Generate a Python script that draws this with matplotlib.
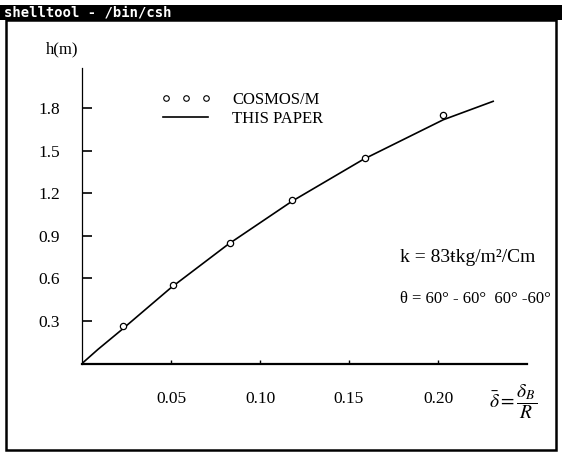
import matplotlib
matplotlib.use("Agg")
import matplotlib.pyplot as plt
from matplotlib.patches import Rectangle
from matplotlib.lines import Line2D
from matplotlib.legend_handler import HandlerLine2D

# ---- data ----
cosmos_x = [0.023, 0.051, 0.083, 0.118, 0.159, 0.203]
cosmos_h = [0.265, 0.553, 0.853, 1.155, 1.452, 1.754]
paper_x = [0.0, 0.009, 0.022, 0.050, 0.082, 0.118, 0.158, 0.203, 0.231]
paper_h = [0.0, 0.10, 0.235, 0.535, 0.84, 1.145, 1.44, 1.72, 1.85]
xticks = [0.05, 0.10, 0.15, 0.20]
xticklabels = ["0.05", "0.10", "0.15", "0.20"]
yticks = [0.3, 0.6, 0.9, 1.2, 1.5, 1.8]
yticklabels = ["0.3", "0.6", "0.9", "1.2", "1.5", "1.8"]

W, H = 562, 453
plt.rcParams['font.family'] = ['Liberation Serif', 'DejaVu Serif']
plt.rcParams['mathtext.fontset'] = 'stix'

fig = plt.figure(figsize=(W / 100, H / 100), dpi=100)
fig.patch.set_facecolor('white')

def fx(px):
    return px / W

def fy(py):
    return 1 - py / H

# title bar and window frame
fig.patches.append(Rectangle((0, fy(20)), 1, fy(5) - fy(20), transform=fig.transFigure,
                             facecolor='black', edgecolor='none', zorder=5))
fig.text(fx(4), fy(12.5), "shelltool - /bin/csh", color='white', fontsize=10,
         fontweight='bold', family=['DejaVu Sans Mono'], va='center', ha='left', zorder=6)
fig.patches.append(Rectangle((fx(6), fy(450)), fx(556) - fx(6), fy(20) - fy(450),
                             transform=fig.transFigure, facecolor='none',
                             edgecolor='black', linewidth=1.8, zorder=5))

# axes
x0, x1 = 82, 527
y0, y1 = 363.5, 68
ax = fig.add_axes([fx(x0), fy(y0), fx(x1) - fx(x0), fy(y1) - fy(y0)])
ax.set_xlim(0, 0.25)
ax.set_ylim(0, 2.085)
ax.patch.set_alpha(0)
for s in ['top', 'right']:
    ax.spines[s].set_visible(False)
ax.spines['left'].set_linewidth(0.9)
ax.spines['bottom'].set_linewidth(1.6)

ax.set_xticks(xticks)
ax.set_xticklabels(xticklabels)
ax.set_yticks(yticks)
ax.set_yticklabels(yticklabels)
ax.tick_params(axis='y', direction='in', length=7, width=1.2, pad=16, labelsize=12.5)
ax.tick_params(axis='x', direction='in', length=3, width=1.0, pad=20, labelsize=12.5)

ax.plot(paper_x, paper_h, color='black', linewidth=1.2, label='THIS PAPER', zorder=3)
ax.plot(cosmos_x, cosmos_h, linestyle='none', marker='o', markersize=4.5,
        markerfacecolor='white', markeredgecolor='black', markeredgewidth=0.9,
        label='COSMOS/M', zorder=4)

h_line = Line2D([], [], color='black', linewidth=1.2)
h_mark = Line2D([], [], linestyle='none', marker='o', markersize=4,
                markerfacecolor='white', markeredgecolor='black', markeredgewidth=0.8)
leg = ax.legend([h_mark, h_line], ['COSMOS/M', 'THIS PAPER'], numpoints=3,
                handler_map={h_line: HandlerLine2D(numpoints=1),
                             h_mark: HandlerLine2D(numpoints=3, marker_pad=0.15)},
                frameon=False, fontsize=12, handlelength=2.7, handletextpad=1.45,
                labelspacing=0.2, loc='upper left',
                bbox_to_anchor=(fx(163), fy(92)), bbox_transform=fig.transFigure,
                borderpad=0, borderaxespad=0)

# axis titles and annotations
fig.text(fx(62), fy(49), "h(m)", fontsize=12, ha='center', va='center')
fig.text(fx(489), fy(402), r"$\bar{\delta}=\dfrac{\delta_B}{R}$", fontsize=14,
         ha='left', va='center')
fig.text(fx(400), fy(257), "k = 83ŧkg/m²/Cm", fontsize=14, ha='left', va='center')
fig.text(fx(400), fy(299), "θ = 60° - 60°  60° -60°", fontsize=12, ha='left', va='center')

fig.savefig("out.png", dpi=100, facecolor='white')
